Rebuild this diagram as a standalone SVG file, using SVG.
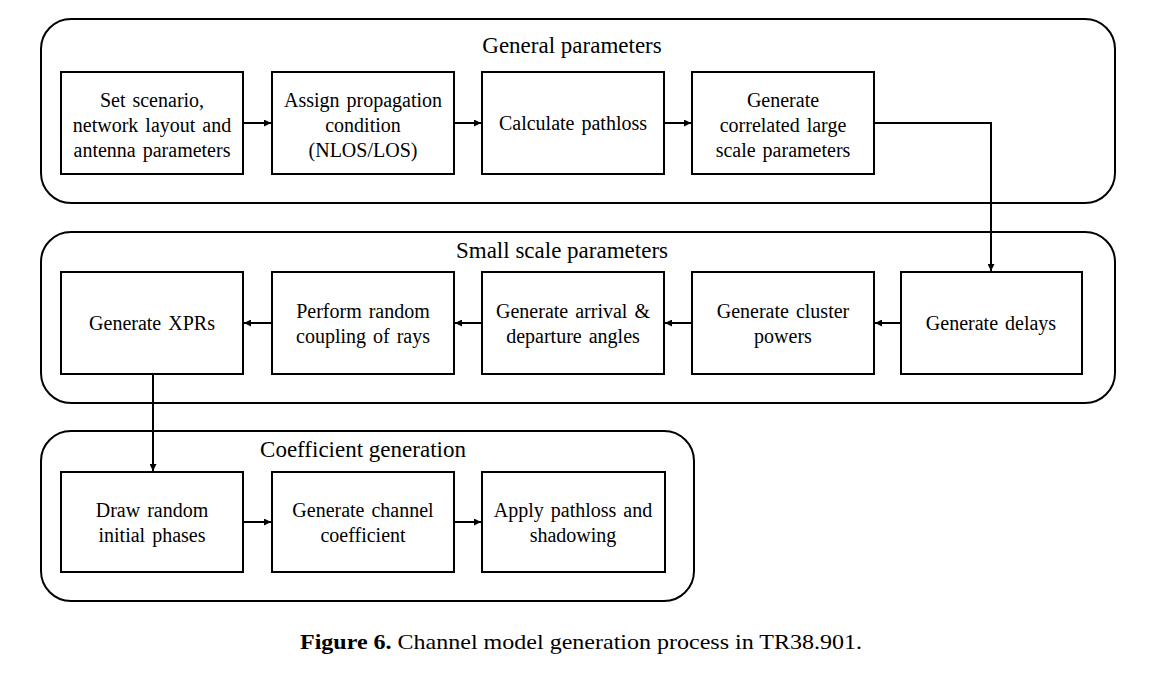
<svg xmlns="http://www.w3.org/2000/svg" width="1158" height="675" viewBox="0 0 1158 675">
<style>
.cont{fill:none;stroke:#000;stroke-width:2}
.box{fill:#fff;stroke:#000;stroke-width:2}
text{font-family:'Liberation Serif',Tinos,'Times New Roman',Times,'Nimbus Roman',serif;fill:#000}
.t{font-size:20px;text-anchor:middle;word-spacing:2px}
.h{font-size:23px;text-anchor:middle}
.cap{font-size:21px}
.c{fill:none;stroke:#000;stroke-width:2}
</style>
<defs>
<marker id="ah" viewBox="0 0 10 10" refX="10" refY="5" markerWidth="9" markerHeight="7" markerUnits="userSpaceOnUse" orient="auto">
<path d="M0,0 L10,5 L0,10 z" fill="#000"/>
</marker>
</defs>
<rect width="1158" height="675" fill="#fff"/>
<g id="general">
<rect class="cont" x="41" y="19" width="1074" height="184" rx="30"/>
<text class="h" x="572" y="53" font-family="Liberation Serif">General parameters</text>
</g>
<g id="small">
<rect class="cont" x="41" y="232" width="1074" height="171" rx="30"/>
<text class="h" x="562" y="258" font-family="Liberation Serif">Small scale parameters</text>
</g>
<g id="coef">
<rect class="cont" x="41" y="431" width="653" height="170" rx="30"/>
<text class="h" x="363" y="457" font-family="Liberation Serif">Coefficient generation</text>
</g>
<g id="n1"><rect class="box" x="61" y="72" width="182" height="102"/>
<text class="t" x="152" y="107">Set scenario,</text><text class="t" x="152" y="132">network layout and</text><text class="t" x="152" y="157">antenna parameters</text></g>
<g id="n2"><rect class="box" x="272" y="72" width="182" height="102"/>
<text class="t" x="363" y="107">Assign propagation</text><text class="t" x="363" y="132">condition</text><text class="t" x="363" y="157">(NLOS/LOS)</text></g>
<g id="n3"><rect class="box" x="482" y="72" width="182" height="102"/>
<text class="t" x="573" y="130">Calculate pathloss</text></g>
<g id="n4"><rect class="box" x="692" y="72" width="182" height="102"/>
<text class="t" x="783" y="107">Generate</text><text class="t" x="783" y="132">correlated large</text><text class="t" x="783" y="157">scale parameters</text></g>
<g id="n5"><rect class="box" x="901" y="272" width="181" height="102"/>
<text class="t" x="991" y="330">Generate delays</text></g>
<g id="n6"><rect class="box" x="692" y="272" width="182" height="102"/>
<text class="t" x="783" y="318">Generate cluster</text><text class="t" x="783" y="343">powers</text></g>
<g id="n7"><rect class="box" x="482" y="272" width="182" height="102"/>
<text class="t" x="573" y="318">Generate arrival &amp;</text><text class="t" x="573" y="343">departure angles</text></g>
<g id="n8"><rect class="box" x="272" y="272" width="182" height="102"/>
<text class="t" x="363" y="318">Perform random</text><text class="t" x="363" y="343">coupling of rays</text></g>
<g id="n9"><rect class="box" x="61" y="272" width="182" height="102"/>
<text class="t" x="152" y="330">Generate XPRs</text></g>
<g id="n10"><rect class="box" x="61" y="472" width="182" height="100"/>
<text class="t" x="152" y="517">Draw random</text><text class="t" x="152" y="542">initial phases</text></g>
<g id="n11"><rect class="box" x="272" y="472" width="182" height="100"/>
<text class="t" x="363" y="517">Generate channel</text><text class="t" x="363" y="542">coefficient</text></g>
<g id="n12"><rect class="box" x="482" y="472" width="183" height="100"/>
<text class="t" x="573" y="517">Apply pathloss and</text><text class="t" x="573" y="542">shadowing</text></g>
<g id="connectors">
<path class="c" d="M243,123 H271" marker-end="url(#ah)"/>
<path class="c" d="M454,123 H481" marker-end="url(#ah)"/>
<path class="c" d="M664,123 H691" marker-end="url(#ah)"/>
<path class="c" d="M874,123 H991 V271" marker-end="url(#ah)"/>
<path class="c" d="M901,323 H875" marker-end="url(#ah)"/>
<path class="c" d="M692,323 H665" marker-end="url(#ah)"/>
<path class="c" d="M482,323 H455" marker-end="url(#ah)"/>
<path class="c" d="M272,323 H244" marker-end="url(#ah)"/>
<path class="c" d="M153,374 V471" marker-end="url(#ah)"/>
<path class="c" d="M243,522 H271" marker-end="url(#ah)"/>
<path class="c" d="M454,522 H481" marker-end="url(#ah)"/>
</g>
<text class="cap" x="300" y="649" textLength="562" lengthAdjust="spacingAndGlyphs"><tspan font-weight="bold">Figure 6.</tspan> Channel model generation process in TR38.901.</text>
</svg>
